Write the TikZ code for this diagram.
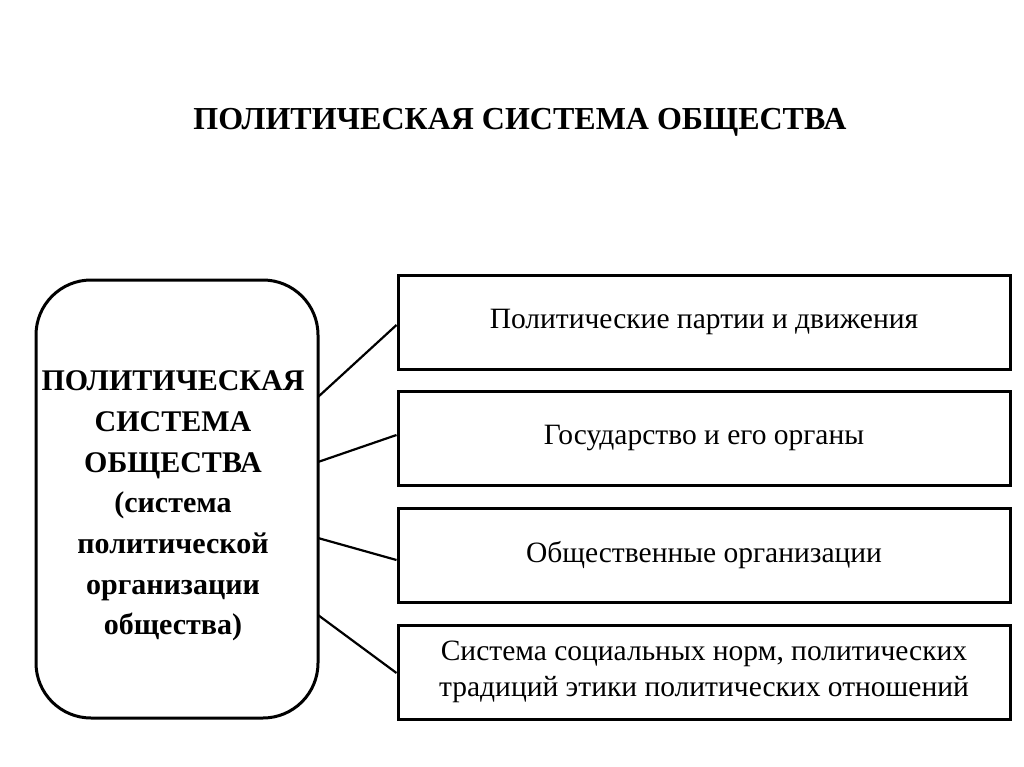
\documentclass[tikz,border=0pt]{standalone}
\usepackage{fontspec}
\setmainfont{Liberation Serif}
\begin{document}
\begin{tikzpicture}[x=1pt,y=-1pt,
  item/.style={draw,line width=3pt,minimum width=612pt,minimum height=94pt,inner sep=0pt,font=\fontsize{29.5}{36}\selectfont,align=center},
  link/.style={line width=2.2pt}]
\useasboundingbox[fill=white] (0,0) rectangle (1024,767);
\node[font=\bfseries\fontsize{32}{36}\selectfont] (title) at (520,122) {ПОЛИТИЧЕСКАЯ СИСТЕМА ОБЩЕСТВА};
\node[draw,line width=3pt,rounded corners=55pt,minimum width=282pt,minimum height=438pt,inner sep=0pt] (main) at (177,499) {};
\node[font=\bfseries\fontsize{30}{40.7}\selectfont,align=center] (maintext) at (173,506) {ПОЛИТИЧЕСКАЯ\\СИСТЕМА\\ОБЩЕСТВА\\(система\\политической\\организации\\общества)};
\node[item] (b1) at (704,322) {Политические партии и движения};
\node[item] (b2) at (704,438) {Государство и его органы};
\node[item] (b3) at (704,555) {Общественные организации};
\node[item] (b4) at (704,672) {Система социальных норм, политических\\традиций этики политических отношений};
\coordinate (s1) at (318,397);
\coordinate (s2) at (318,462);
\coordinate (s3) at (318,538);
\coordinate (s4) at (318,615);
\draw[link] (s1) -- (b1.west |- 0,325);
\draw[link] (s2) -- (b2.west |- 0,435);
\draw[link] (s3) -- (b3.west |- 0,560);
\draw[link] (s4) -- (b4.west |- 0,673);
\end{tikzpicture}
\end{document}
